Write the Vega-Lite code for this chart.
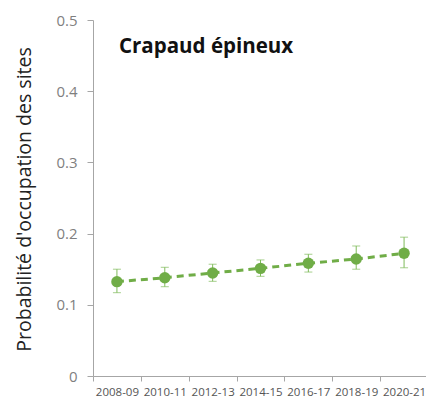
{
  "$schema": "https://vega.github.io/schema/vega-lite/v6.json",
  "autosize": "none",
  "padding": {"left": 93, "top": 20, "right": 0, "bottom": 24},
  "width": 335,
  "height": 356,
  "background": "white",
  "title": {
    "text": "Crapaud épineux",
    "anchor": "start",
    "frame": "group",
    "font": "Open Sans",
    "fontSize": 20.5,
    "fontWeight": "bold",
    "color": "#111111",
    "baseline": "alphabetic",
    "offset": 0,
    "dx": 26,
    "dy": 60
  },
  "data": {
    "values": [
      {"period": "2008-09", "p": 0.1325, "lo": 0.117, "hi": 0.150},
      {"period": "2010-11", "p": 0.138, "lo": 0.1254, "hi": 0.1527},
      {"period": "2012-13", "p": 0.1447, "lo": 0.133, "hi": 0.157},
      {"period": "2014-15", "p": 0.1512, "lo": 0.140, "hi": 0.163},
      {"period": "2016-17", "p": 0.1583, "lo": 0.146, "hi": 0.171},
      {"period": "2018-19", "p": 0.1643, "lo": 0.150, "hi": 0.1826},
      {"period": "2020-21", "p": 0.1723, "lo": 0.152, "hi": 0.195}
    ]
  },
  "encoding": {
    "x": {
      "field": "period",
      "type": "ordinal",
      "scale": {"paddingInner": 0, "paddingOuter": 0},
      "axis": {
        "title": null,
        "labelAngle": 0,
        "labelFont": "Open Sans",
        "labelFontSize": 11.5,
        "labelColor": "#555555",
        "labelPadding": 5,
        "bandPosition": 0,
        "domainColor": "#a6a6a6",
        "tickColor": "#a6a6a6",
        "tickSize": 5,
        "tickOffset": 0,
        "labelBound": false,
        "labelOverlap": false
      }
    }
  },
  "layer": [
    {
      "mark": {"type": "line", "color": "#70AD47", "strokeWidth": 3, "strokeDash": [7, 5]},
      "encoding": {
        "y": {
          "field": "p",
          "type": "quantitative",
          "scale": {"domain": [0, 0.5]},
          "axis": {
            "title": "Probabilité d'occupation des sites",
            "titleFont": "Open Sans",
            "titleFontSize": 19.5,
            "titleFontWeight": "normal",
            "titleColor": "#222222",
            "titleX": -59,
            "titleY": 179,
            "values": [0, 0.1, 0.2, 0.3, 0.4, 0.5],
            "format": "~g",
            "labelFont": "Open Sans",
            "labelFontSize": 15,
            "labelColor": "#7f7f7f",
            "labelPadding": 10,
            "tickSize": 6,
            "domainColor": "#a6a6a6",
            "tickColor": "#a6a6a6",
            "grid": false
          }
        }
      }
    },
    {
      "mark": {"type": "rule", "color": "#7fbb5a", "strokeWidth": 1},
      "encoding": {
        "y": {"field": "lo", "type": "quantitative"},
        "y2": {"field": "hi"}
      }
    },
    {
      "mark": {"type": "tick", "color": "#7fbb5a", "thickness": 1, "size": 8},
      "encoding": {"y": {"field": "lo", "type": "quantitative"}}
    },
    {
      "mark": {"type": "tick", "color": "#7fbb5a", "thickness": 1, "size": 8},
      "encoding": {"y": {"field": "hi", "type": "quantitative"}}
    },
    {
      "mark": {"type": "circle", "color": "#70AD47", "size": 130, "opacity": 1},
      "encoding": {"y": {"field": "p", "type": "quantitative"}}
    }
  ],
  "config": {"view": {"stroke": null}, "axis": {"domainWidth": 1}}
}
